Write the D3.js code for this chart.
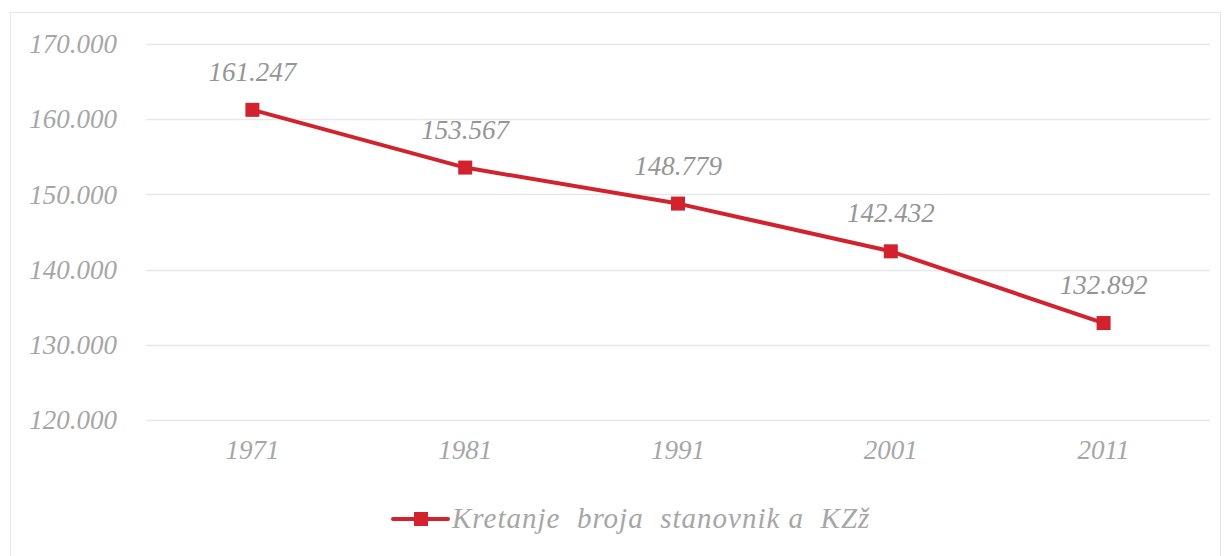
<!DOCTYPE html>
<html>
<head>
<meta charset="utf-8">
<script src="https://cdn.jsdelivr.net/npm/d3@7"></script>
<style>
  body { margin: 0; background: #fff; }
</style>
</head>
<body>
<div id="chart"></div>
<script>
// podaci
const years = ["1971", "1981", "1991", "2001", "2011"];
const population = [161247, 153567, 148779, 142432, 132892];
const yTicks = [120000, 130000, 140000, 150000, 160000, 170000];
const seriesName = "Kretanje  broja  stanovnik a  KZž";

const width = 1226, height = 556;
const margin = { left: 146, right: 16, top: 44, bottom: 136 };
const serif = "'Liberation Serif', 'DejaVu Serif', 'Times New Roman', serif";

const fmtLabel = v => (v / 1000).toFixed(3);

const svg = d3.select("#chart").append("svg")
  .attr("width", width)
  .attr("height", height);

// okvir
svg.append("rect")
  .attr("x", 10.5).attr("y", 12.5)
  .attr("width", 1210).attr("height", 560)
  .attr("fill", "none")
  .attr("stroke", "#e6e6e6");

const x = d3.scaleBand()
  .domain(years)
  .range([margin.left, 1210]);

const y = d3.scaleLinear()
  .domain([120000, 170000])
  .range([420, margin.top]);

// mreža
svg.append("g")
  .selectAll("line")
  .data(yTicks)
  .enter().append("line")
  .attr("x1", margin.left).attr("x2", 1210)
  .attr("y1", d => Math.round(y(d)) + 0.5)
  .attr("y2", d => Math.round(y(d)) + 0.5)
  .attr("stroke", "#e8e8e8")
  .attr("stroke-width", 1.5);

// os y
const yAxis = d3.axisLeft(y)
  .tickValues(yTicks)
  .tickSize(0)
  .tickPadding(29)
  .tickFormat(d => (d / 1000).toFixed(3));

svg.append("g")
  .attr("transform", "translate(" + margin.left + ",0)")
  .call(yAxis)
  .call(g => g.select(".domain").remove())
  .selectAll("text")
  .style("font-family", serif)
  .style("font-style", "italic")
  .style("font-size", "27px")
  .attr("fill", "#a6a6a6");

// os x
const xAxis = d3.axisBottom(x).tickSize(0).tickPadding(20);
svg.append("g")
  .attr("transform", "translate(0,420)")
  .call(xAxis)
  .call(g => g.select(".domain").remove())
  .selectAll("text")
  .style("font-family", serif)
  .style("font-style", "italic")
  .style("font-size", "27px")
  .attr("fill", "#a6a6a6");

const cx = d => x(d) + x.bandwidth() / 2;

// linija
const line = d3.line()
  .x((d, i) => cx(years[i]))
  .y(d => y(d));

svg.append("path")
  .datum(population)
  .attr("d", line)
  .attr("fill", "none")
  .attr("stroke", "#d2222d")
  .attr("stroke-width", 4)
  .attr("stroke-linejoin", "round");

// markeri
svg.selectAll(".marker")
  .data(population)
  .enter().append("rect")
  .attr("class", "marker")
  .attr("x", (d, i) => cx(years[i]) - 7)
  .attr("y", d => y(d) - 7)
  .attr("width", 14).attr("height", 14)
  .attr("fill", "#d2222d");

// oznake vrijednosti
svg.selectAll(".lbl")
  .data(population)
  .enter().append("text")
  .attr("class", "lbl")
  .attr("x", (d, i) => cx(years[i]))
  .attr("y", d => y(d) - 29)
  .attr("text-anchor", "middle")
  .style("font-family", serif)
  .style("font-style", "italic")
  .style("font-size", "27px")
  .attr("fill", "#959595")
  .text(d => fmtLabel(d));

// legenda
const lg = svg.append("g").attr("transform", "translate(393,519)");
lg.append("line")
  .attr("x1", 0).attr("x2", 55)
  .attr("stroke", "#d2222d").attr("stroke-width", 4)
  .attr("stroke-linecap", "round");
lg.append("rect")
  .attr("x", 21).attr("y", -7)
  .attr("width", 14).attr("height", 14)
  .attr("fill", "#d2222d");
lg.append("text")
  .attr("x", 59).attr("y", 9)
  .style("font-family", serif)
  .style("font-style", "italic")
  .style("font-size", "29px")
  .style("letter-spacing", "1px")
  .style("white-space", "pre")
  .attr("fill", "#a6a6a6")
  .text(seriesName);
</script>
</body>
</html>
